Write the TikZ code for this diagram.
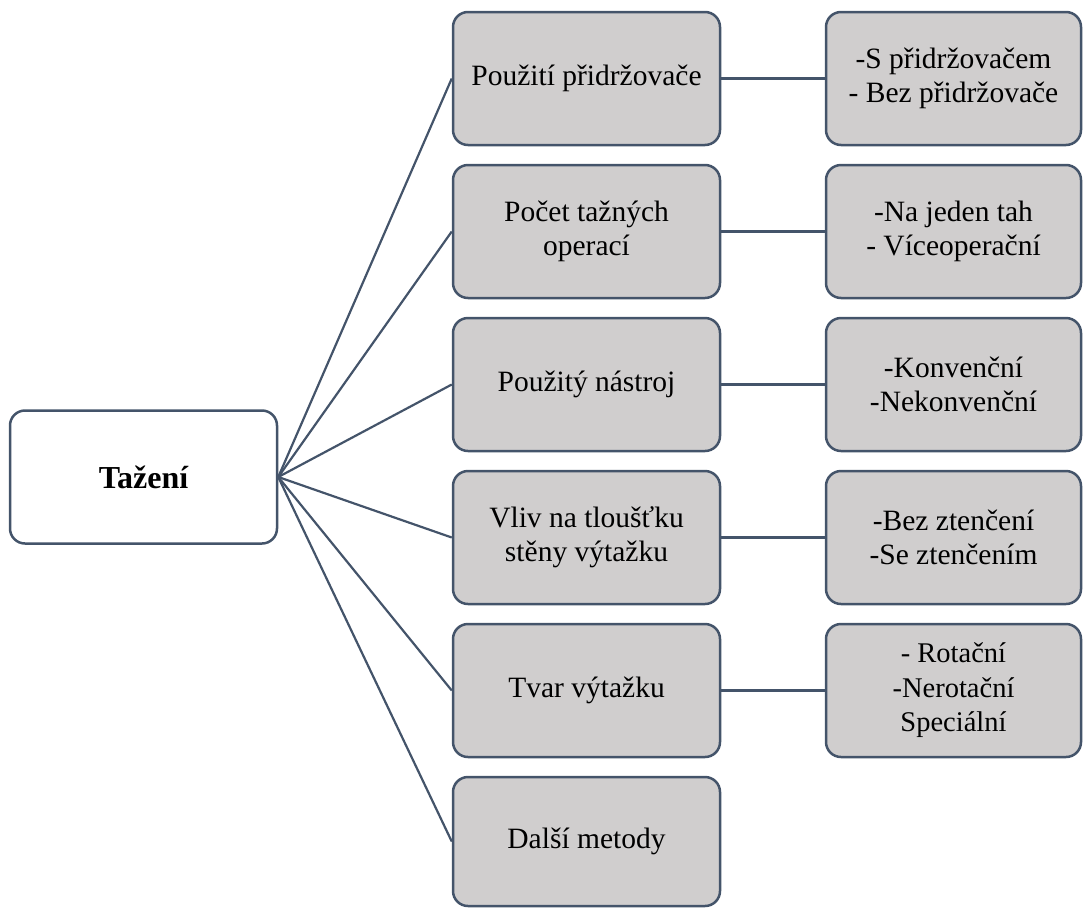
\documentclass[tikz,border=0pt]{standalone}
\usepackage{fontspec}
\setmainfont{Liberation Serif}
\definecolor{edgeslate}{HTML}{44546A}
\definecolor{boxgray}{HTML}{D0CECE}
\tikzset{
  box/.style={draw=edgeslate, line width=2.5pt, rounded corners=15pt,
    fill=boxgray, inner sep=0pt, align=center, text=black,
    minimum width=267pt, minimum height=133pt,
    font=\fontsize{29.5pt}{34pt}\selectfont},
  rootbox/.style={box, fill=white, font=\fontsize{32pt}{36pt}\selectfont\bfseries},
  leafbox/.style={box, minimum width=255pt},
  link/.style={draw=edgeslate, line width=2.2pt}
}
\begin{document}
\begin{tikzpicture}[x=1pt,y=-1pt]
\useasboundingbox (0,0) rectangle (1083,908);

% root
\node[rootbox] (root) at (143.5,477) {Tažení};

% middle column
\node[box] (m1) at (586.5,78.5)  {Použití přidržovače};
\node[box] (m2) at (586.5,231.5) {Počet tažných\\operací};
\node[box] (m3) at (586.5,384.5) {Použitý nástroj};
\node[box] (m4) at (586.5,537.5) {Vliv na tloušťku\\stěny výtažku};
\node[box] (m5) at (586.5,690.5) {Tvar výtažku};
\node[box, minimum height=129pt] (m6) at (586.5,841.5) {Další metody};

% right column
\node[leafbox] (r1) at (953.5,78.5)  {-S přidržovačem\\- Bez přidržovače};
\node[leafbox] (r2) at (953.5,231.5) {-Na jeden tah\\- Víceoperační};
\node[leafbox] (r3) at (953.5,384.5) {-Konvenční\\-Nekonvenční};
\node[leafbox] (r4) at (953.5,537.5) {-Bez ztenčení\\-Se ztenčením};
\node[leafbox, font=\fontsize{28.5pt}{34.5pt}\selectfont] (r5) at (953.5,690.5) {- Rotační\\-Nerotační\\Speciální};

% connectors
\foreach \m in {m1,m2,m3,m4,m5,m6}
  \draw[link] (root.east) -- (\m.west);
\foreach \i in {1,...,5}
  \draw[link] (m\i.east) -- (r\i.west);
\end{tikzpicture}
\end{document}
